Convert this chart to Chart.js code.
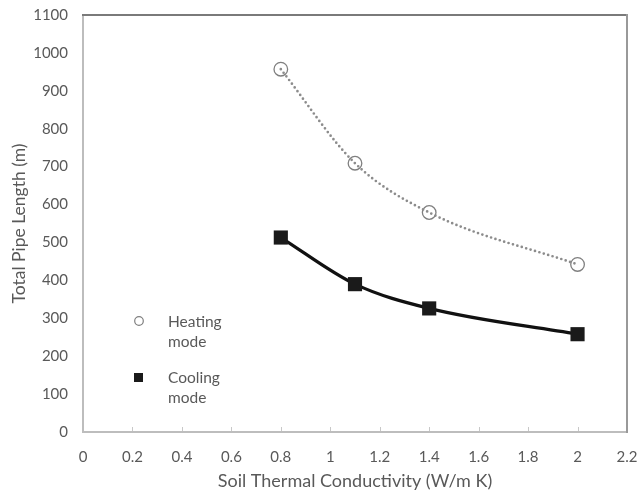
<!DOCTYPE html>
<html>
<head>
<meta charset="utf-8">
<script src="https://cdn.jsdelivr.net/npm/chart.js@4"></script>
<style>
html,body{margin:0;padding:0;background:#fff;}
#wrap{width:638px;height:492px;position:relative;}
</style>
</head>
<body>
<div id="wrap"><canvas id="c" width="638" height="492"></canvas></div>
<script>
const conductivity = [0.8, 1.1, 1.4, 2.0];
const heatingLength = [957, 709, 579, 442];
const coolingLength = [513, 390, 326, 258];
const legendLabels = [["Heating", "mode"], ["Cooling", "mode"]];
const xTitle = "Soil Thermal Conductivity (W/m K)";
const yTitle = "Total Pipe Length (m)";

const FONT = "Lato, 'Open Sans', sans-serif";
const TXT = '#595959';
const pts = (ys) => conductivity.map((x, i) => ({x: x, y: ys[i]}));

const framePlugin = {
  id: 'frame',
  afterDatasetsDraw(chart) {
    const ctx = chart.ctx, a = chart.chartArea, xs = chart.scales.x;
    ctx.save();
    // x-axis inner tick marks
    ctx.strokeStyle = '#c8c8c8';
    ctx.lineWidth = 1;
    xs.ticks.forEach(t => {
      const px = Math.round(xs.getPixelForValue(t.value)) + 0.5;
      ctx.beginPath(); ctx.moveTo(px, a.bottom); ctx.lineTo(px, a.bottom - 5); ctx.stroke();
    });
    // left & bottom
    ctx.strokeStyle = '#bdbdbd';
    ctx.lineWidth = 2;
    ctx.beginPath();
    ctx.moveTo(a.left, a.top); ctx.lineTo(a.left, a.bottom); ctx.lineTo(a.right, a.bottom);
    ctx.stroke();
    // top & right
    ctx.strokeStyle = '#7a7a7a';
    ctx.beginPath(); ctx.moveTo(a.left - 1, a.top); ctx.lineTo(a.right, a.top); ctx.stroke();
    ctx.strokeStyle = '#999999';
    ctx.beginPath(); ctx.moveTo(a.right, a.top - 1); ctx.lineTo(a.right, a.bottom + 1); ctx.stroke();
    // legend
    ctx.font = "15.5px " + FONT;
    ctx.textBaseline = 'middle';
    ctx.textAlign = 'left';
    const lx = 139, tx = 168;
    const rows = [322, 378];
    ctx.strokeStyle = '#7f7f7f'; ctx.lineWidth = 1.2;
    ctx.beginPath(); ctx.arc(lx, rows[0] - 1, 4.3, 0, Math.PI * 2); ctx.stroke();
    ctx.fillStyle = '#1a1a1a';
    ctx.fillRect(lx - 5, rows[1] - 5, 9, 9);
    ctx.fillStyle = TXT;
    legendLabels.forEach((lines, i) => {
      lines.forEach((s, j) => ctx.fillText(s, tx, rows[i] + j * 20));
    });
    // y title
    ctx.save();
    ctx.translate(25, (a.top + a.bottom) / 2);
    ctx.rotate(-Math.PI / 2);
    ctx.textAlign = 'center';
    ctx.textBaseline = 'alphabetic';
    ctx.font = "17.5px " + FONT;
    ctx.fillText(yTitle, 0, 0);
    ctx.restore();
    ctx.restore();
  }
};

new Chart(document.getElementById('c'), {
  type: 'scatter',
  data: {
    datasets: [
      {
        label: 'Cooling mode', data: pts(coolingLength), showLine: false,
        pointStyle: 'rect', pointRadius: 10, pointBackgroundColor: '#1a1a1a',
        pointBorderColor: '#1a1a1a', pointBorderWidth: 0, order: 0
      },
      {
        label: 'Cooling trend', data: pts(coolingLength), showLine: true,
        borderColor: '#111111', borderWidth: 3.2, pointRadius: 0,
        cubicInterpolationMode: 'monotone', order: 1
      },
      {
        label: 'Heating trend', data: pts(heatingLength), showLine: true,
        borderColor: '#8c8c8c', borderWidth: 2.7, borderDash: [0, 4.6], borderCapStyle: 'round',
        pointRadius: 0, cubicInterpolationMode: 'monotone', order: 2
      },
      {
        label: 'Heating mode', data: pts(heatingLength), showLine: false,
        pointStyle: 'circle', pointRadius: 6.8, pointBackgroundColor: 'rgba(255,255,255,0)',
        pointBorderColor: '#7f7f7f', pointBorderWidth: 1.3, order: 3
      }
    ]
  },
  options: {
    responsive: false,
    animation: false,
    layout: { padding: { top: 15, right: 11, left: 0, bottom: 0 } },
    plugins: { legend: { display: false }, tooltip: { enabled: false } },
    scales: {
      x: {
        type: 'linear', min: 0, max: 2.2,
        ticks: {
          stepSize: 0.2, color: TXT, padding: 0,
          font: { family: FONT, size: 15 },
          callback: v => String(parseFloat(Number(v).toFixed(1)))
        },
        grid: { display: true, drawOnChartArea: false, drawTicks: true, tickLength: 16, color: 'rgba(0,0,0,0)' },
        border: { display: false },
        title: { display: true, text: xTitle, color: TXT, font: { family: FONT, size: 18 }, padding: { top: 0, bottom: 0 } },
        afterFit(s) { s.height = 60; }
      },
      y: {
        type: 'linear', min: 0, max: 1100,
        ticks: {
          stepSize: 100, color: TXT, padding: 0,
          font: { family: FONT, size: 15 },
          callback: v => String(v)
        },
        grid: { display: true, drawOnChartArea: false, drawTicks: true, tickLength: 15, color: 'rgba(0,0,0,0)' },
        border: { display: false },
        title: { display: false },
        afterFit(s) { s.width = 83; }
      }
    }
  },
  plugins: [framePlugin]
});
</script>
</body>
</html>
